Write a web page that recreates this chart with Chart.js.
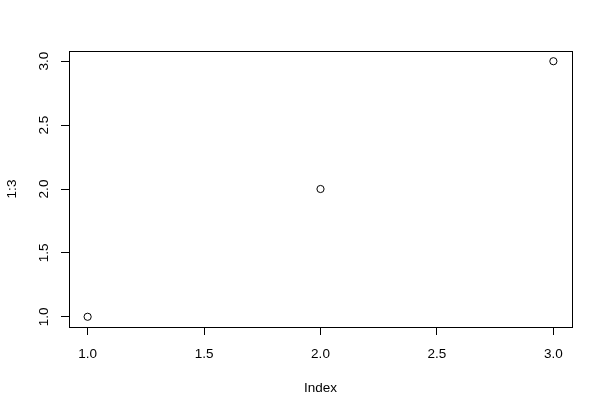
<!DOCTYPE html>
<html><head><meta charset="utf-8">
<script src="https://cdn.jsdelivr.net/npm/chart.js@4"></script>
<style>html,body{margin:0;padding:0;background:#fff}#wrap{width:607px;height:396px}</style>
</head><body><div id="wrap"><canvas id="c" width="607" height="396"></canvas></div>
<script>
const indexValues = [1, 2, 3];
const seriesValues = [1, 2, 3];
const xTicks = [1.0, 1.5, 2.0, 2.5, 3.0];
const yTicks = [1.0, 1.5, 2.0, 2.5, 3.0];
const xTitle = 'Index';
const yTitle = '1:3';
const FONT = '13.5px "Liberation Sans", Arial, sans-serif';

const points = indexValues.map((x, i) => ({x: x, y: seriesValues[i]}));

const rPlot = {
  id: 'rPlot',
  afterDraw(chart) {
    const ctx = chart.ctx, a = chart.chartArea;
    const xs = chart.scales.x, ys = chart.scales.y;
    ctx.save();
    ctx.strokeStyle = '#000'; ctx.lineWidth = 1;
    ctx.strokeRect(Math.round(a.left) + 0.5, Math.round(a.top) + 0.5, Math.round(a.right - a.left), Math.round(a.bottom - a.top));
    ctx.fillStyle = '#000'; ctx.font = FONT;
    ctx.textAlign = 'center'; ctx.textBaseline = 'middle';
    xs.ticks.forEach(t => ctx.fillText(t.value.toFixed(1), xs.getPixelForValue(t.value), 354));
    ys.ticks.forEach(t => {
      ctx.save(); ctx.translate(44, ys.getPixelForValue(t.value)); ctx.rotate(-Math.PI / 2);
      ctx.fillText(t.value.toFixed(1), 0, 0); ctx.restore();
    });
    ctx.fillText(xTitle, (a.left + a.right) / 2, 388);
    ctx.save(); ctx.translate(12, (a.top + a.bottom) / 2); ctx.rotate(-Math.PI / 2);
    ctx.fillText(yTitle, 0, 0); ctx.restore();
    ctx.restore();
  }
};

new Chart(document.getElementById('c'), {
  type: 'scatter',
  data: { datasets: [{ data: points, showLine: false, pointStyle: 'circle', pointRadius: 3.6, pointHoverRadius: 3.6,
    borderColor: '#000', backgroundColor: 'rgba(0,0,0,0)', borderWidth: 1 }] },
  options: {
    responsive: false, animation: false, devicePixelRatio: 1,
    layout: { padding: { top: 51, right: 35, left: 0, bottom: 0 } },
    plugins: { legend: { display: false }, tooltip: { enabled: false } },
    scales: {
      x: { type: 'linear', min: 0.92, max: 3.08,
        afterBuildTicks: s => { s.ticks = xTicks.map(v => ({value: v})); },
        afterFit: s => { s.height = 69; },
        grid: { drawOnChartArea: false, drawTicks: true, tickLength: 8, color: '#000', lineWidth: 1 },
        border: { display: false },
        ticks: { display: false } },
      y: { type: 'linear', min: 0.92, max: 3.08,
        afterBuildTicks: s => { s.ticks = yTicks.map(v => ({value: v})); },
        afterFit: s => { s.width = 69; },
        grid: { drawOnChartArea: false, drawTicks: true, tickLength: 8, color: '#000', lineWidth: 1 },
        border: { display: false },
        ticks: { display: false } }
    }
  },
  plugins: [rPlot]
});
</script></body></html>
